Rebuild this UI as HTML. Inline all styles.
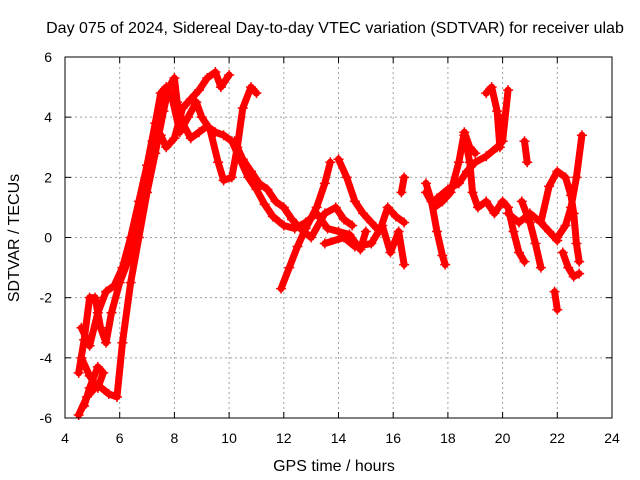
<!DOCTYPE html>
<html><head><meta charset="utf-8"><style>
body{margin:0;background:#fff}
svg{display:block;font-family:"Liberation Sans",sans-serif}
</style></head><body>
<svg id="chart" width="640" height="480">
<text x="335" y="33" text-anchor="middle" font-size="16">Day 075 of 2024, Sidereal Day-to-day VTEC variation (SDTVAR) for receiver ulab</text>
<text x="334" y="471" text-anchor="middle" font-size="16">GPS time / hours</text>
<text transform="translate(19,238) rotate(-90)" text-anchor="middle" font-size="16">SDTVAR / TECUs</text>
<g id="grid"></g><g id="ticks"></g><g id="marks"></g>
<rect x="65" y="57" width="547" height="361" fill="none" stroke="#000" stroke-width="1"/>
</svg>
<script>
const xTicks=[4,6,8,10,12,14,16,18,20,22,24];
const yTicks=[-6,-4,-2,0,2,4,6];
const s1=[[4.5,-5.9],[4.8,-5.3],[5.2,-4.9],[5.6,-5.2],[5.9,-5.3],[6.1,-3.5],[6.4,-1.5],[6.7,0],[7.0,1.5],[7.3,2.8],[7.6,4.2],[7.8,5.0],[8.0,5.3],[8.1,4.5],[8.3,3.8],[8.6,3.3],[8.9,3.5],[9.2,3.7],[9.5,3.5],[9.8,3.4],[10.1,3.2],[10.4,2.6],[10.7,2.0],[11.0,1.6],[11.3,1.1],[11.6,0.7],[12.0,0.4],[12.4,0.3],[12.8,0.5],[13.2,0.8],[13.6,0.3],[14.0,0.2],[14.4,0.1],[14.8,-0.4],[15.0,0.2]];
const s2=[[4.5,-4.5],[4.7,-3.4],[4.9,-2.0],[5.1,-2.0],[5.3,-3.0],[5.5,-3.5],[5.7,-2.5],[6.0,-1.5],[6.3,-0.8],[6.6,0.3],[6.9,1.8],[7.2,3.2],[7.5,3.4],[7.7,3.0],[8.0,3.3],[8.3,4.3],[8.6,4.6],[8.9,4.9],[9.2,5.3],[9.5,5.5],[9.7,5.0],[10.0,5.4]];
const s3=[[4.6,-3.0],[4.9,-3.6],[5.2,-2.5],[5.5,-1.8],[5.8,-1.6],[6.1,-1.0],[6.4,0],[6.7,1.2],[7.0,2.4],[7.3,3.8],[7.5,4.8],[7.7,5.0],[7.9,4.7],[8.2,3.5],[8.5,4.0],[8.8,4.5],[9.0,4.0],[9.3,3.6],[9.6,2.5],[9.8,1.9],[10.1,2.0],[10.3,3.0],[10.5,4.3],[10.8,5.0],[11.0,4.8]];
const s4=[[4.6,-4.0],[4.9,-4.6],[5.2,-5.0],[5.4,-4.5],[5.2,-4.3],[4.9,-5.0],[4.7,-5.6]];
const s5=[[10.2,3.2],[10.5,2.6],[10.8,2.2],[11.1,1.8],[11.4,1.6],[11.7,1.2],[12.0,1.0],[12.3,0.6],[12.6,0.3],[13.0,0.0],[13.5,0.8],[13.9,1.0],[14.2,0.6],[14.5,0.4]];
const s6=[[11.9,-1.7],[12.2,-1.0],[12.5,-0.3],[12.8,0.3],[13.2,1.0],[13.5,1.8],[13.7,2.5]];
const s7=[[14.0,2.6],[14.3,2.0],[14.6,1.2],[14.9,0.8],[15.2,0.5],[15.5,0.2],[15.8,1.0],[16.1,0.7],[16.4,0.5]];
const s8=[[13.5,-0.2],[14.2,0.0],[14.6,-0.3],[15.2,-0.2],[15.6,0.4],[15.9,-0.5],[16.2,0.2],[16.4,-0.9]];
const s9=[[16.3,1.5],[16.4,2.0]];
const s10=[[17.2,1.8],[17.4,1.2],[17.6,0.2],[17.8,-0.6],[17.9,-0.9]];
const s11=[[17.2,1.5],[17.5,1.0],[17.8,1.2],[18.1,1.5],[18.4,2.5],[18.6,3.5],[18.8,3.0],[19.0,2.8]];
const s12=[[17.6,1.3],[18.0,1.6],[18.4,1.8],[18.7,2.2],[19.0,2.5],[19.4,2.7],[19.8,3.0],[20.0,3.2],[20.2,4.9]];
const s13=[[19.4,4.8],[19.6,5.0],[19.8,4.2],[19.9,3.0],[20.0,4.0]];
const s14=[[18.6,3.4],[18.8,2.5],[18.9,1.5],[19.1,1.0],[19.4,1.2],[19.7,0.8],[20.0,1.2],[20.2,1.0],[20.4,0.2],[20.6,-0.5],[20.8,-0.8]];
const s15=[[20.8,3.2],[20.9,2.5]];
const s16=[[20.7,1.2],[21.0,0.5],[21.2,-0.2],[21.4,-1.0]];
const s17=[[21.9,-1.8],[22.0,-2.4]];
const s18=[[21.4,0.5],[21.7,1.7],[22.0,2.2],[22.3,2.0],[22.5,1.4],[22.6,0.8],[22.7,-0.2],[22.8,-0.8]];
const s19=[[22.2,-0.5],[22.4,-1.0],[22.6,-1.3],[22.8,-1.2]];
const s20=[[22.0,0.0],[22.3,0.4],[22.5,1.0],[22.7,2.0],[22.9,3.4]];
const s21=[[20.2,0.8],[20.6,0.5],[21.0,0.8],[21.4,0.5],[21.7,0.2],[22.0,-0.1]];
const series=[s1,s2,s3,s4,s5,s6,s7,s8,s9,s10,s11,s12,s13,s14,s15,s16,s17,s18,s19,s20,s21];
const NS='http://www.w3.org/2000/svg';
const X=h=>65+(h-4)*547/20, Y=v=>237.5-v*361/12;
function mk(t,a,p){const e=document.createElementNS(NS,t);for(const k in a)e.setAttribute(k,a[k]);p.appendChild(e);return e;}
const grid=document.getElementById('grid'),ticks=document.getElementById('ticks'),marks=document.getElementById('marks');
xTicks.forEach(t=>{const x=X(t);
 if(t>4&&t<24){const g=mk('line',{x1:x,x2:x,y1:57,y2:418,stroke:'#a0a0a0','stroke-dasharray':'2,3'},grid);
 
 }
 mk('line',{x1:x,x2:x,y1:418,y2:412,stroke:'#000'},ticks);mk('line',{x1:x,x2:x,y1:57,y2:63,stroke:'#000'},ticks);
 const l=mk('text',{x:x,y:443,'text-anchor':'middle','font-size':'14'},ticks);l.textContent=t;
 
 });
yTicks.forEach(t=>{const y=Y(t);
 if(t>-6&&t<6){const g=mk('line',{x1:65,x2:612,y1:y,y2:y,stroke:'#a0a0a0','stroke-dasharray':'2,3'},grid);
 
 }
 mk('line',{x1:65,x2:71,y1:y,y2:y,stroke:'#000'},ticks);mk('line',{x1:612,x2:606,y1:y,y2:y,stroke:'#000'},ticks);
 const l=mk('text',{x:52,y:y+5,'text-anchor':'end','font-size':'14'},ticks);l.textContent=t;
 
 });
series.forEach((s,i)=>{
 const g=mk('g',{},marks);
 
 
 mk('polyline',{points:s.map(p=>X(p[0])+','+Y(p[1])).join(' '),fill:'none',stroke:'#f00','stroke-width':7,'stroke-linejoin':'round','stroke-linecap':'round'},g);
 s.forEach(p=>{const x=X(p[0]),y=Y(p[1]);
  mk('path',{d:`M${x-5},${y}h10M${x},${y-5}v10`,stroke:'#f00','stroke-width':1.5},g);});
});
</script>
</body></html>
